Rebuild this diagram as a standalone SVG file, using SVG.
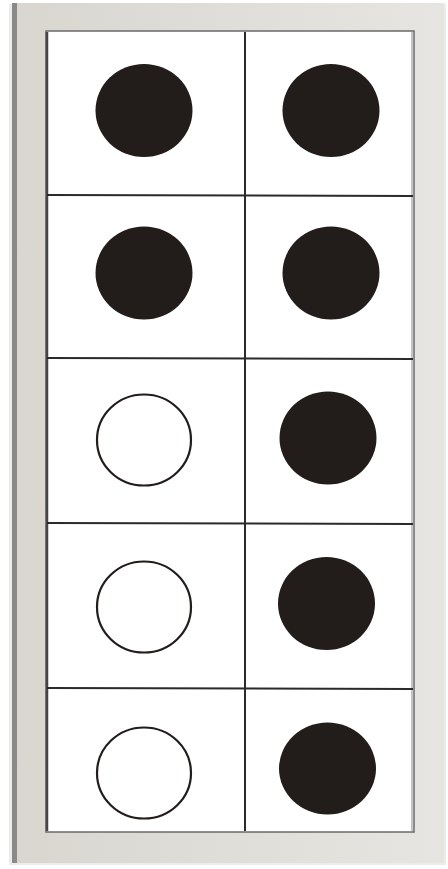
<svg xmlns="http://www.w3.org/2000/svg" width="448" height="869" viewBox="0 0 448 869">
<defs>
<style>
.dot{fill:#221c1b;}
.ring{fill:#fff;stroke:#221c1b;stroke-width:2.2;}
.grid{stroke:#2a2a2a;stroke-width:2;fill:none;}
</style>
<linearGradient id="fr" x1="0" y1="0" x2="1" y2="0">
<stop offset="0" stop-color="#d8d6cf"/>
<stop offset="1" stop-color="#e6e5e1"/>
</linearGradient>
</defs>
<rect width="448" height="869" fill="#ffffff"/>
<g id="frame">
<rect x="9" y="4" width="437" height="861" fill="#ececec"/>
<rect x="12" y="3" width="432" height="860" fill="url(#fr)"/>
<rect x="12" y="3" width="5" height="860" fill="#8a8a88"/>
<rect x="46" y="31" width="368" height="801" fill="#ffffff" stroke="#6a6a6a" stroke-width="1.5"/>
<line x1="47" y1="32" x2="47" y2="831" stroke="#444" stroke-width="2.5"/>
<line x1="412" y1="32" x2="412" y2="831" stroke="#b0b0b0" stroke-width="1.5"/>
</g>
<g id="connectors">
<line class="grid" x1="245" y1="32" x2="245" y2="831"/>
<line class="grid" x1="47" y1="195" x2="413" y2="196"/>
<line class="grid" x1="47" y1="358" x2="413" y2="359"/>
<line class="grid" x1="47" y1="523" x2="413" y2="524"/>
<line class="grid" x1="47" y1="688" x2="413" y2="689"/>
</g>
<g id="c1l"><ellipse class="dot" cx="144" cy="110.5" rx="48.5" ry="46.5"/></g>
<g id="c1r"><ellipse class="dot" cx="331" cy="110.5" rx="48.5" ry="46.5"/></g>
<g id="c2l"><ellipse class="dot" cx="144" cy="273" rx="48.5" ry="46.5"/></g>
<g id="c2r"><ellipse class="dot" cx="331" cy="273" rx="48.5" ry="46.5"/></g>
<g id="c3l"><ellipse class="ring" cx="144" cy="440" rx="47" ry="45.5"/></g>
<g id="c3r"><ellipse class="dot" cx="328" cy="438" rx="48.5" ry="46.5"/></g>
<g id="c4l"><ellipse class="ring" cx="144" cy="607" rx="47" ry="45.5"/></g>
<g id="c4r"><ellipse class="dot" cx="326.5" cy="603.5" rx="48.5" ry="46.5"/></g>
<g id="c5l"><ellipse class="ring" cx="144" cy="773" rx="47" ry="45.5"/></g>
<g id="c5r"><ellipse class="dot" cx="327.5" cy="768.5" rx="48.5" ry="46"/></g>
</svg>
